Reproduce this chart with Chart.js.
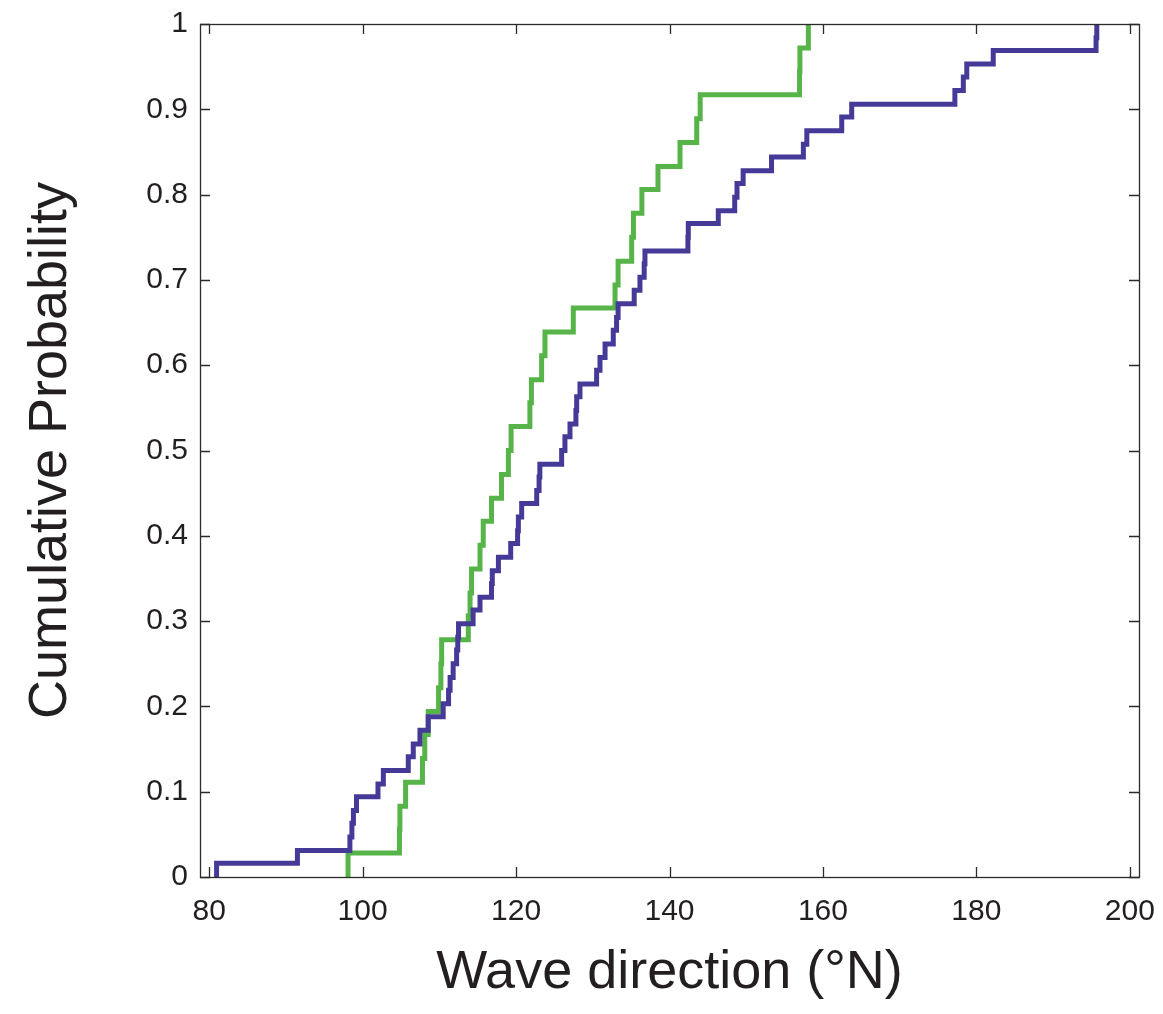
<!DOCTYPE html>
<html>
<head>
<meta charset="utf-8">
<script src="https://cdn.jsdelivr.net/npm/chart.js@4.4.1/dist/chart.umd.min.js"></script>
<style>
    html, body { margin: 0; padding: 0; background: #fff; }
    #wrap { width: 1163px; height: 1014px; }
</style>
</head>
<body>
<div id="wrap"><canvas id="cdfChart" width="1163" height="1014"></canvas></div>
<script>
// Step positions (wave direction, degrees N) and cumulative level after each step
const purpleX = [80.96, 91.5, 98.34, 98.6, 98.8, 99.2, 102.0, 102.7, 105.95, 106.6,
    107.47, 108.55, 110.5, 111.2, 111.4, 111.8, 112.25, 112.4, 112.5, 114.4,
    115.3, 116.8, 116.9, 117.7, 119.3, 120.2, 120.3, 120.73, 122.69, 123.0,
    123.1, 125.94, 126.37, 127.03, 127.8, 127.9, 128.33, 130.5, 130.94, 131.6,
    132.67, 133.1, 133.3, 135.4, 136.15, 136.7, 136.8, 142.4, 142.45, 146.36,
    148.5, 148.8, 149.6, 153.3, 157.45, 157.9, 162.45, 163.75, 177.2, 178.3,
    178.75, 182.2, 195.6, 195.7];
const purpleY = [0.016, 0.031, 0.047, 0.063, 0.078, 0.094, 0.109, 0.125, 0.141, 0.156,
    0.172, 0.188, 0.203, 0.219, 0.234, 0.25, 0.266, 0.281, 0.297, 0.313,
    0.328, 0.344, 0.359, 0.375, 0.391, 0.406, 0.422, 0.438, 0.453, 0.469,
    0.484, 0.5, 0.516, 0.531, 0.547, 0.563, 0.578, 0.594, 0.609, 0.625,
    0.641, 0.656, 0.672, 0.688, 0.703, 0.719, 0.734, 0.75, 0.766, 0.781,
    0.797, 0.813, 0.828, 0.844, 0.859, 0.875, 0.891, 0.906, 0.922, 0.938,
    0.953, 0.969, 0.984, 1];

const greenX = [98.1, 104.8, 104.86, 105.6, 107.8, 108.1, 108.55, 109.9, 110.2, 110.3,
    113.77, 114.0, 114.2, 115.3, 115.72, 116.8, 118.1, 119.0, 119.35, 121.8,
    122.0, 123.33, 123.77, 127.46, 132.9, 133.3, 135.07, 135.3, 136.4, 138.5,
    141.37, 143.55, 144.0, 156.95, 157.0, 158.1];
const greenY = [0.028, 0.056, 0.083, 0.111, 0.139, 0.167, 0.194, 0.222, 0.25, 0.278,
    0.306, 0.333, 0.361, 0.389, 0.417, 0.444, 0.472, 0.5, 0.528, 0.556,
    0.583, 0.611, 0.639, 0.667, 0.694, 0.722, 0.75, 0.778, 0.806, 0.833,
    0.861, 0.889, 0.917, 0.944, 0.972, 1];

const xTicks = [80, 100, 120, 140, 160, 180, 200];
const yTicks = [0, 0.1, 0.2, 0.3, 0.4, 0.5, 0.6, 0.7, 0.8, 0.9, 1];
const yTickLabels = ['0', '0.1', '0.2', '0.3', '0.4', '0.5', '0.6', '0.7', '0.8', '0.9', '1'];

const fontFamily = "'Liberation Sans', Arial, Helvetica, sans-serif";
const textColor = '#231f20';

// build step points, starting from zero at the first sample
function stepPoints(xs, ys) {
    const pts = [{ x: xs[0], y: 0 }];
    xs.forEach((x, i) => pts.push({ x: x, y: ys[i] }));
    return pts;
}

// keep tick labels from pushing the plot area around
function noOverhang(scale) {
    scale.paddingLeft = 0;
    scale.paddingRight = 0;
    scale.paddingTop = 0;
    scale.paddingBottom = 0;
}

// frame with inward ticks on all four sides
const framePlugin = {
    id: 'frame',
    afterDatasetsDraw(chart) {
        const ctx = chart.ctx;
        const area = chart.chartArea;
        const xs = chart.scales.x;
        const ys = chart.scales.y;
        const len = 10;
        ctx.save();
        ctx.strokeStyle = '#2b2b2b';
        ctx.lineWidth = 1.3;
        ctx.beginPath();
        xTicks.forEach(v => {
            const px = Math.round(xs.getPixelForValue(v)) + 0.5;
            ctx.moveTo(px, area.bottom);
            ctx.lineTo(px, area.bottom - len);
            ctx.moveTo(px, area.top);
            ctx.lineTo(px, area.top + len);
        });
        yTicks.forEach(v => {
            const py = Math.round(ys.getPixelForValue(v)) + 0.5;
            ctx.moveTo(area.left, py);
            ctx.lineTo(area.left + len, py);
            ctx.moveTo(area.right, py);
            ctx.lineTo(area.right - len, py);
        });
        ctx.stroke();
        ctx.strokeRect(area.left + 0.5, area.top + 0.5, area.right - area.left, area.bottom - area.top);
        ctx.restore();
    }
};

new Chart(document.getElementById('cdfChart'), {
    type: 'line',
    data: {
        datasets: [{
            label: 'Purple',
            data: stepPoints(purpleX, purpleY),
            borderColor: '#463a98',
            borderWidth: 5,
            stepped: 'before',
            pointRadius: 0,
            fill: false
        }, {
            label: 'Green',
            data: stepPoints(greenX, greenY),
            borderColor: '#57b448',
            borderWidth: 5,
            stepped: 'before',
            pointRadius: 0,
            fill: false
        }]
    },
    options: {
        responsive: false,
        animation: false,
        events: [],
        layout: {
            padding: { left: 0, top: 24, right: 24, bottom: 0 }
        },
        plugins: {
            legend: { display: false },
            tooltip: { enabled: false }
        },
        scales: {
            x: {
                type: 'linear',
                min: 78.8,
                max: 201.2,
                afterBuildTicks: (scale) => {
                    scale.ticks = xTicks.map(v => ({ value: v }));
                },
                afterFit: (scale) => { scale.height = 137; noOverhang(scale); },
                grid: { display: false, drawTicks: false },
                border: { display: false },
                ticks: {
                    padding: 17,
                    maxRotation: 0,
                    color: textColor,
                    font: { family: fontFamily, size: 30 },
                    callback: (v) => String(v)
                },
                title: {
                    display: true,
                    text: 'Wave direction (°N)',
                    color: textColor,
                    font: { family: fontFamily, size: 54, lineHeight: 1.2 },
                    padding: { top: 0, bottom: 8 }
                }
            },
            y: {
                type: 'linear',
                min: 0,
                max: 1,
                afterBuildTicks: (scale) => {
                    scale.ticks = yTicks.map(v => ({ value: v }));
                },
                afterFit: (scale) => { scale.width = 200; noOverhang(scale); },
                grid: { display: false, drawTicks: false },
                border: { display: false },
                ticks: {
                    padding: 12,
                    color: textColor,
                    font: { family: fontFamily, size: 30 },
                    callback: (v, i) => yTickLabels[i]
                },
                title: {
                    display: true,
                    text: 'Cumulative Probability',
                    color: textColor,
                    font: { family: fontFamily, size: 54, lineHeight: 1.2 },
                    padding: { top: 19, bottom: 0 }
                }
            }
        }
    },
    plugins: [framePlugin]
});
</script>
</body>
</html>
